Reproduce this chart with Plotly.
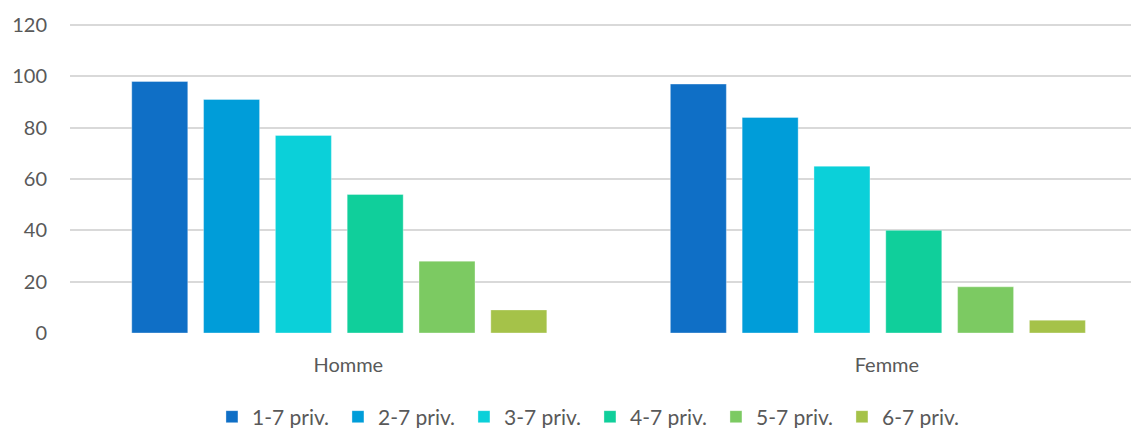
import plotly.graph_objects as go

categories = ["Homme", "Femme"]
series_names = ["1-7 priv.", "2-7 priv.", "3-7 priv.", "4-7 priv.", "5-7 priv.", "6-7 priv."]
s1 = [98, 97]
s2 = [91, 84]
s3 = [77, 65]
s4 = [54, 40]
s5 = [28, 18]
s6 = [9, 5]
series_values = [s1, s2, s3, s4, s5, s6]
colors = ["#0F6FC6", "#009DD9", "#0BD0D9", "#10CF9B", "#7CCA62", "#A5C249"]
y_ticks = [0, 20, 40, 60, 80, 100, 120]

fig = go.Figure()
for name, vals, col in zip(series_names, series_values, colors):
    fig.add_trace(go.Bar(
        x=[0, 1], y=vals, name=name,
        marker=dict(color=col, line=dict(color="rgba(255,255,255,0.35)", width=1)),
    ))

font_family = "Lato, Open Sans, sans-serif"
fig.update_layout(
    width=1131, height=428,
    margin=dict(l=70, r=0, t=24, b=95, autoexpand=False),
    paper_bgcolor="white", plot_bgcolor="white",
    barmode="group", bargap=0.2, bargroupgap=0.22,
    font=dict(family=font_family, color="#595959", size=20),
    legend=dict(orientation="h", yref="container", y=1 - 417 / 428, yanchor="middle",
                x=0.1338, xanchor="left", font=dict(size=21),
                itemwidth=30, traceorder="normal", entrywidth=81,
                entrywidthmode="pixels"),
    xaxis=dict(range=[-0.5, 1.47], tickmode="array", tickvals=[0, 1],
               ticktext=categories, showgrid=False, zeroline=False,
               showline=False, ticklabelstandoff=18, ticklabelshift=9,
               automargin=False),
    yaxis=dict(range=[0, 120.4], tickmode="array", tickvals=y_ticks,
               showgrid=True, gridcolor="#D9D9D9", gridwidth=1.5,
               zeroline=False, showline=False, ticklabelstandoff=22,
               automargin=False),
)
fig.write_html("out.html", config={"displayModeBar": False},
               post_script="document.body.style.margin='0';")
